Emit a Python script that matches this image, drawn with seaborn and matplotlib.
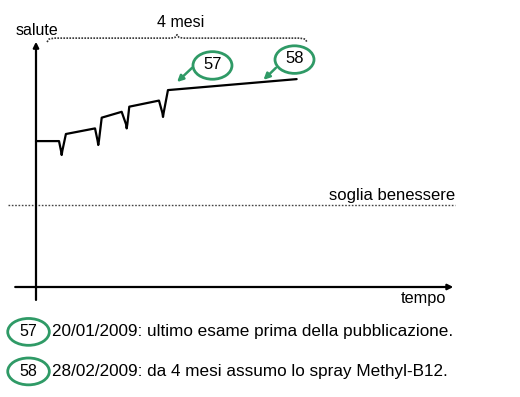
import numpy as np
import pandas as pd
import matplotlib
matplotlib.use("Agg")
import matplotlib.pyplot as plt
import seaborn as sns
from matplotlib.patches import Ellipse

# dati (tempo in mesi, salute in unita' arbitrarie)
tempo = [0.00, 0.354, 0.385, 0.395, 0.405, 0.46,
         0.908, 0.948, 0.958, 0.968, 1.011,
         1.318, 1.385, 1.395, 1.405, 1.435,
         1.892, 1.944, 1.954, 1.964, 2.03,
         4.01]
salute = [59.8, 59.8, 55.8, 54.1, 55.8, 62.7,
          65.0, 59.9, 58.2, 59.9, 69.4,
          71.8, 66.7, 65.0, 66.7, 73.9,
          76.4, 71.4, 69.7, 71.4, 80.7,
          85.2]
soglia = 33.6
eventi = ["57", "58"]
descrizioni = ["20/01/2009: ultimo esame prima della pubblicazione.",
               "28/02/2009: da 4 mesi assumo lo spray Methyl-B12."]

df = pd.DataFrame({"tempo": tempo, "salute": salute})

sns.set_theme(style="white")
plt.rcParams["font.family"] = ["Liberation Sans", "DejaVu Sans"]
plt.rcParams["text.color"] = "black"

verde = "#2f9a66"
fig = plt.figure(figsize=(5.2, 3.97), dpi=100)
ax = fig.add_axes([0, 0, 1, 1])
# 65 px per mese, 2.44 px per unita' di salute
ax.set_xlim(-36 / 65, (520 - 36) / 65)
ax.set_ylim(-110 / 2.44, 287 / 2.44)
ax.axis("off")

sns.lineplot(data=df, x="tempo", y="salute", ax=ax, color="black", lw=1.6,
             sort=False, estimator=None)

# assi con frecce
ax.annotate("", xy=(6.42, 0), xytext=(-0.32, 0),
            arrowprops=dict(arrowstyle="-|>", color="black", lw=1.6,
                            mutation_scale=8, shrinkA=0, shrinkB=0))
ax.annotate("", xy=(0, 100.5), xytext=(0, -5.3),
            arrowprops=dict(arrowstyle="-|>", color="black", lw=1.6,
                            mutation_scale=8, shrinkA=0, shrinkB=0))
ax.text(-0.31, 105.3, "salute", fontsize=11.5, ha="left", va="center")
ax.text(6.31, -4.6, "tempo", fontsize=11.8, ha="right", va="center")

# soglia benessere
ax.plot([-0.43, 6.45], [soglia, soglia], color="#444444", lw=1,
        linestyle=(0, (1.2, 1.2)))
ax.text(6.45, soglia + 3.8, "soglia benessere", fontsize=12,
        ha="right", va="center")

# graffa "4 mesi"
bx = [0.17, 0.20, 0.28, 2.08, 2.14, 2.17, 2.20, 2.26, 4.06, 4.14, 4.17]
by = [100.4, 101.6, 102.0, 102.0, 102.3, 103.4, 102.3, 102.0, 102.0, 101.6, 100.4]
ax.plot(bx, by, color="#333333", lw=1.2, linestyle=(0, (1, 0.8)))
ax.text(2.23, 108.4, "4 mesi", fontsize=11.5, ha="center", va="center")

# etichette 57 / 58 sul grafico
centri = [(2.715, 90.8), (3.977, 93.2)]
frecce = [((2.40, 89.8), (2.17, 84.0)), ((3.69, 89.8), (3.50, 84.9))]
for lab, (cx, cy), (p0, p1) in zip(eventi, centri, frecce):
    ax.add_patch(Ellipse((cx, cy), 0.6, 11.3, fill=False, ec=verde, lw=2))
    ax.text(cx, cy + 0.3, lab, fontsize=12, ha="center", va="center")
    ax.annotate("", xy=p1, xytext=p0,
                arrowprops=dict(arrowstyle="-|>", color=verde, lw=1.8,
                                mutation_scale=9, shrinkA=0, shrinkB=0))

# legenda in basso
for i, (lab, desc) in enumerate(zip(eventi, descrizioni)):
    yy = -18.4 - i * 16.2
    ax.add_patch(Ellipse((-0.115, yy), 0.64, 11.0, fill=False, ec=verde, lw=2))
    ax.text(-0.125, yy, lab, fontsize=11.5, ha="center", va="center")
    ax.text(0.25, yy, desc, fontsize=12.3, ha="left", va="center")

fig.savefig("out.png", dpi=100)
